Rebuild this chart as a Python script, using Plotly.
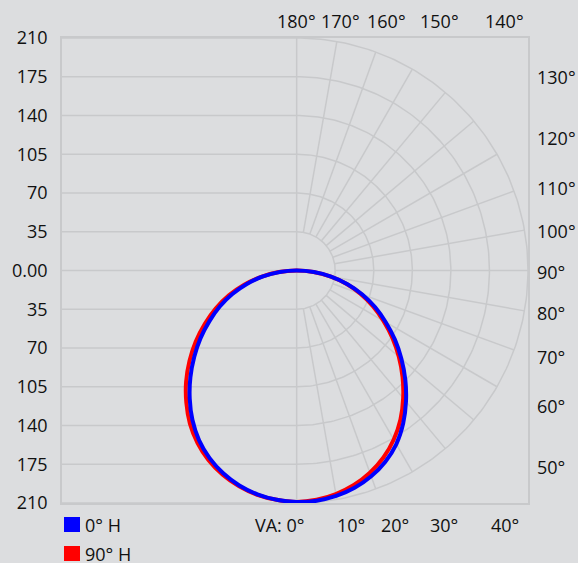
import numpy as np
import plotly.graph_objects as go

# ---------------- data ----------------
va_deg = [0, 5, 10, 15, 20, 25, 30, 35, 40, 45, 50, 55, 60, 65, 70, 75, 80, 85, 90]
# 0° H plane (blue): right half C0, left half C180
c0 = [209, 208.7, 206.8, 203.2, 197.8, 190.5, 181.0, 168.6, 154.4, 139.5, 124.1, 108.9,
      93.4, 78.7, 63.4, 47.8, 31.7, 15.7, 0]
c180 = [209, 207.9, 205.3, 201.0, 194.9, 187.0, 177.1, 164.9, 151.0, 136.4, 121.4, 106.5,
        91.4, 77.0, 62.1, 46.8, 31.0, 15.4, 0]
# 90° H plane (red): right half C90, left half C270
c90 = [209, 207.8, 205.0, 200.6, 194.4, 186.4, 176.3, 164.3, 150.4, 135.9, 121.0, 106.1,
       91.0, 76.6, 61.8, 46.6, 30.9, 15.3, 0]
c270 = [209, 207.9, 205.7, 201.8, 196.3, 189.1, 179.9, 168.9, 155.8, 141.9, 127.0, 111.8,
        96.2, 81.1, 65.5, 49.3, 32.7, 16.2, 0]

series_names = ["0° H", "90° H"]
series_colors = ["#0000ff", "#ff0000"]

r_max = 210
r_rings = [35, 70, 105, 140, 175, 210]
y_tickvals = [-210, -175, -140, -105, -70, -35, 0, 35, 70, 105, 140, 175, 210]
y_ticktext = ["210", "175", "140", "105", "70", "35", "0.00", "35", "70", "105", "140", "175", "210"]
va_grid = [10, 20, 30, 40, 50, 60, 70, 80, 90, 100, 110, 120, 130, 140, 150, 160, 170]
top_labels = [180, 170, 160, 150, 140]
right_labels = [130, 120, 110, 100, 90, 80, 70, 60, 50]
bottom_labels = [40, 30, 20, 10]

# ---------------- style ----------------
BG = "#dcdddf"
GRID = "#c8c9cb"
FONT = dict(family="Open Sans", size=18, color="#111111")
X_MIN = -213


def px(x):
    return (x - X_MIN) / (r_max - X_MIN)


def py(y):
    return (y + r_max) / (2 * r_max)


def half_curve(intensity, side):
    th = np.radians(va_deg)
    I = np.array(intensity, dtype=float)
    return side * I * np.sin(th), -I * np.cos(th)


def plane_curve(right_vals, left_vals):
    xl, yl = half_curve(left_vals, -1)
    xr, yr = half_curve(right_vals, 1)
    x = np.concatenate([xl[::-1], xr[1:]])
    y = np.concatenate([yl[::-1], yr[1:]])
    return x, y


fig = go.Figure()

# grid: horizontal lines on the left half
gx, gy = [], []
for v in y_tickvals:
    gx += [X_MIN, 0, None]
    gy += [v, v, None]
# vertical axis line
gx += [0, 0, None]
gy += [-r_max, r_max, None]
# semicircles on the right half
t = np.radians(np.linspace(0, 180, 181))
for r in r_rings:
    gx += list(r * np.sin(t)) + [None]
    gy += list(-r * np.cos(t)) + [None]
# radial lines
for a in va_grid:
    ar = np.radians(a)
    gx += [r_rings[0] * np.sin(ar), r_max * np.sin(ar), None]
    gy += [-r_rings[0] * np.cos(ar), -r_max * np.cos(ar), None]

fig.add_trace(go.Scatter(x=gx, y=gy, mode="lines", line=dict(color=GRID, width=1.5),
                         hoverinfo="skip", showlegend=False))

# curves: red underneath, blue on top
planes = [(c0, c180), (c90, c270)]
for idx in [1, 0]:
    x, y = plane_curve(*planes[idx])
    fig.add_trace(go.Scatter(x=x, y=y, mode="lines", name=series_names[idx],
                             line=dict(color=series_colors[idx], width=4,
                                       shape="spline", smoothing=1),
                             showlegend=False))

# angle labels (paper coordinates derived from data positions)
ann = []
top_y = 225
for a in top_labels:
    ar = np.radians(a)
    x = top_y * np.sin(ar) / max(-np.cos(ar), 1e-9)
    ann.append(dict(xref="paper", yref="paper", x=px(x), y=py(top_y), text=f"{a}°",
                    xanchor="center", yanchor="middle", showarrow=False, font=FONT))
for a in right_labels:
    ar = np.radians(a)
    y = -r_max * np.cos(ar) / np.sin(ar)
    ann.append(dict(xref="paper", yref="paper", x=px(216), y=py(y - 1.5), text=f"{a}°",
                    xanchor="left", yanchor="middle", showarrow=False, font=FONT))
bottom_y = -230
for a in bottom_labels:
    ar = np.radians(a)
    x = r_max * np.tan(ar)
    ann.append(dict(xref="paper", yref="paper", x=px(x - 2), y=py(bottom_y), text=f"{a}°",
                    xanchor="left", yanchor="middle", showarrow=False, font=FONT))
ann.append(dict(xref="paper", yref="paper", x=px(9), y=py(bottom_y), text="VA: 0°",
                xanchor="right", yanchor="middle", showarrow=False, font=FONT))

# legend (squares + text below the plot)
shapes = []
for i, (name, col) in enumerate(zip(series_names, series_colors)):
    top = -14 - 29 * i
    shapes.append(dict(type="rect", xref="paper", yref="paper", xsizemode="pixel",
                       ysizemode="pixel", xanchor=0, yanchor=0, x0=2, x1=18,
                       y0=top - 15, y1=top, fillcolor=col, line=dict(width=0)))
    ann.append(dict(xref="paper", yref="paper", x=0, y=0, xshift=21, yshift=top - 7.5,
                    text=name, xanchor="left", yanchor="middle", showarrow=False, font=FONT))

fig.update_layout(
    width=578, height=563,
    margin=dict(l=60, r=50, t=38, b=60),
    paper_bgcolor=BG, plot_bgcolor=BG,
    font=FONT,
    showlegend=False,
    annotations=ann,
    shapes=shapes,
    xaxis=dict(range=[X_MIN, r_max], showgrid=False, zeroline=False, showticklabels=False,
               showline=True, mirror=True, linecolor=GRID, linewidth=1.5, fixedrange=True),
    yaxis=dict(range=[-r_max, r_max], showgrid=False, zeroline=False,
               tickvals=y_tickvals, ticktext=y_ticktext, ticks="", ticklabelstandoff=9,
               showline=True, mirror=True, linecolor=GRID, linewidth=1.5, fixedrange=True,
               tickfont=FONT),
)

fig.write_html("out.html", config={"displayModeBar": False},
               post_script="document.body.style.margin='0';document.body.style.background='%s';" % BG)
